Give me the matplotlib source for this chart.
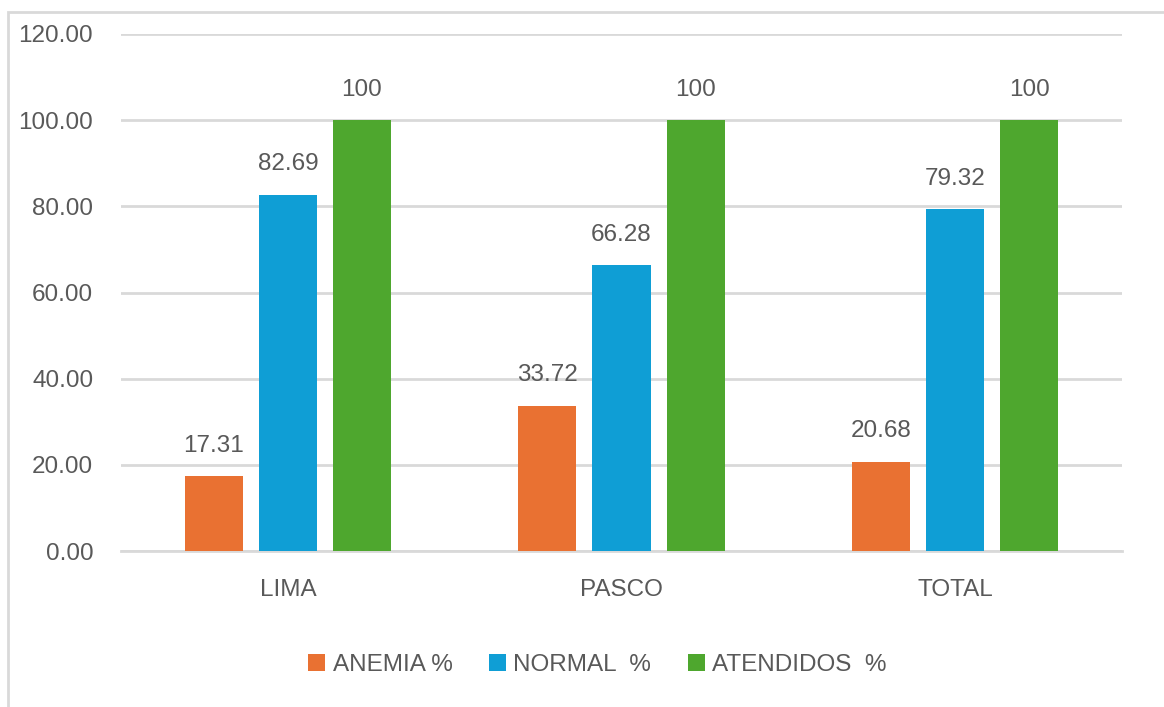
import numpy as np
import matplotlib.pyplot as plt
from matplotlib.patches import Rectangle

# datos
regiones = ["LIMA", "PASCO", "TOTAL"]
anemia = [17.31, 33.72, 20.68]
normal = [82.69, 66.28, 79.32]
atendidos = [100, 100, 100]
etiquetas_atendidos = ["100", "100", "100"]

series = [
    ("ANEMIA %", anemia, "#E97132"),
    ("NORMAL  %", normal, "#0F9ED5"),
    ("ATENDIDOS  %", atendidos, "#4EA72E"),
]

plt.rcParams["font.family"] = ["Liberation Sans", "DejaVu Sans"]
gris = "#595959"
fs = 17.5

fig = plt.figure(figsize=(11.64, 7.07), dpi=100)
ax = fig.add_axes([121 / 1164, 1 - 551 / 707, 1001 / 1164, 517 / 707])

# marco exterior del grafico
fig.patches.append(Rectangle((8 / 1164, -0.1), 1.2, 1 - 12 / 707 + 0.1,
                             transform=fig.transFigure, fill=False,
                             edgecolor="#D9D9D9", linewidth=2))

x = np.arange(len(regiones))
ancho = 0.174
paso = 0.222
for i, (nombre, valores, color) in enumerate(series):
    pos = x + (i - 1) * paso
    barras = ax.bar(pos, valores, ancho, color=color, label=nombre, zorder=3)
    if nombre.startswith("ATENDIDOS"):
        textos = etiquetas_atendidos
    else:
        textos = [f"{v:.2f}" for v in valores]
    for b, t in zip(barras, textos):
        ax.annotate(t, (b.get_x() + b.get_width() / 2, b.get_height()),
                    xytext=(0, 14), textcoords="offset points",
                    ha="center", va="bottom", fontsize=fs, color=gris)

ax.set_xlim(-0.5, 2.5)
ax.set_ylim(0, 120)
ax.set_yticks(np.arange(0, 121, 20))
ax.set_yticklabels([f"{v:.2f}" for v in np.arange(0, 121, 20)])
ax.set_xticks(x)
ax.set_xticklabels(regiones)
ax.tick_params(axis="both", length=0, labelsize=fs, colors=gris)
ax.tick_params(axis="y", pad=20)
ax.tick_params(axis="x", pad=20)
ax.grid(axis="y", color="#D9D9D9", linewidth=2, zorder=0)
for s in ["top", "right", "left"]:
    ax.spines[s].set_visible(False)
ax.spines["bottom"].set_color("#D9D9D9")
ax.spines["bottom"].set_linewidth(2)

ax.legend(loc="center", bbox_to_anchor=(0.476, -0.2205), ncol=3, frameon=False,
          fontsize=fs, labelcolor=gris, handlelength=0.7, handleheight=0.7,
          handletextpad=0.3, columnspacing=1.5)

fig.savefig("out.png", dpi=100)
